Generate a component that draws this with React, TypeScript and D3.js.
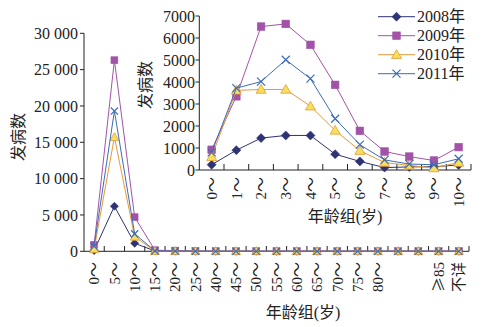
import React from "react";
import * as d3 from "d3";

const mainLabels = ["0～","5～","10～","15～","20～","25～","40～","45～","50～","55～","60～","65～","70～","75～","80～","","","≥85","不详"];
const main2008 = [100, 6200, 1100, 50, 20, 10, 10, 10, 10, 10, 10, 10, 10, 10, 10, 10, 10, 10, 10];
const main2009 = [900, 26300, 4700, 150, 100, 30, 20, 20, 20, 20, 20, 20, 20, 20, 20, 20, 20, 20, 20];
const main2010 = [300, 15700, 2000, 20, 10, 10, 10, 10, 10, 10, 10, 10, 10, 10, 10, 10, 10, 10, 10];
const main2011 = [700, 19300, 2400, 60, 30, 20, 10, 10, 10, 10, 10, 10, 10, 10, 10, 10, 10, 10, 10];
const mainTicks = [0, 5000, 10000, 15000, 20000, 25000, 30000];

const insetLabels = ["0～","1～","2～","3～","4～","5～","6～","7～","8～","9～","10～"];
const in2008 = [240, 900, 1450, 1570, 1570, 720, 390, 110, 140, 150, 230];
const in2009 = [920, 3350, 6520, 6640, 5690, 3870, 1780, 840, 610, 430, 1040];
const in2010 = [600, 3620, 3660, 3660, 2900, 1800, 880, 340, 210, 90, 340];
const in2011 = [800, 3720, 4020, 5010, 4150, 2330, 1150, 460, 270, 240, 510];
const insetTicks = [0, 1000, 2000, 3000, 4000, 5000, 6000, 7000];

const seriesNames = ["2008年", "2009年", "2010年", "2011年"];

const NAVY = "#2D3373";
const PURPLE = "#A253A8";
const ORANGE = "#E49A38";
const YELLOW = "#F6E05A";
const BLUE = "#3C6CB6";

const styles = [
  { line: NAVY, marker: "diamond", fill: NAVY, stroke: NAVY },
  { line: PURPLE, marker: "square", fill: PURPLE, stroke: PURPLE },
  { line: ORANGE, marker: "triangle", fill: YELLOW, stroke: ORANGE },
  { line: BLUE, marker: "x", fill: "none", stroke: BLUE },
];

const SERIF = "'Liberation Serif', 'Times New Roman', serif";
const CJK = "'Liberation Serif', 'Noto Sans CJK SC', serif";

function Marker({ type, x, y, fill, stroke, s = 1 }: any) {
  if (type === "diamond") {
    const r = 4.5 * s;
    return <path d={`M${x},${y - r}L${x + r},${y}L${x},${y + r}L${x - r},${y}Z`} fill={fill} stroke={stroke} strokeWidth={0.6} />;
  }
  if (type === "square") {
    const r = 3.8 * s;
    return <rect x={x - r} y={y - r} width={2 * r} height={2 * r} fill={fill} stroke={stroke} strokeWidth={0.6} />;
  }
  if (type === "triangle") {
    const r = 5 * s;
    return <path d={`M${x},${y - r}L${x + r},${y + r * 0.75}L${x - r},${y + r * 0.75}Z`} fill={fill} stroke={stroke} strokeWidth={0.8} />;
  }
  const r = 4 * s;
  return <path d={`M${x - r},${y - r}L${x + r},${y + r}M${x + r},${y - r}L${x - r},${y + r}`} stroke={stroke} strokeWidth={1.2} fill="none" />;
}

function Label({ text }: { text: string }) {
  if (text.startsWith("≥")) {
    return (
      <>
        <tspan fontFamily="'Noto Sans CJK SC', sans-serif">≥</tspan>
        {text.slice(1)}
      </>
    );
  }
  return <>{text}</>;
}

export default function App() {
  const xM = d3.scaleBand<number>().domain(d3.range(mainLabels.length)).range([84, 469]);
  const yM = d3.scaleLinear().domain([0, 30000]).range([251.3, 33.3]);
  const cxM = (i: number) => (xM(i) as number) + xM.bandwidth() / 2;
  const mainSeries = [main2008, main2009, main2010, main2011];

  const xI = d3.scaleBand<number>().domain(d3.range(insetLabels.length)).range([199.3, 471]);
  const yI = d3.scaleLinear().domain([0, 7000]).range([170, 16]);
  const cxI = (i: number) => (xI(i) as number) + xI.bandwidth() / 2;
  const insetSeries = [in2008, in2009, in2010, in2011];

  const lineM = d3.line<number>().x((_, i) => cxM(i)).y((d) => yM(d));
  const lineI = d3.line<number>().x((_, i) => cxI(i)).y((d) => yI(d));

  const fmtMain = (v: number) => (v >= 1000 ? d3.format(",")(v).replace(",", " ") : String(v));

  return (
    <svg width={491} height={327} style={{ position: "absolute", left: 0, top: 0, background: "#fff" }}>
      <rect width={491} height={327} fill="#fff" />
      <g fontFamily={SERIF} fontSize={16} fill="#222">
        <line x1={84} x2={84} y1={33.3} y2={251.3} stroke="#222" strokeWidth={1} />
        <line x1={84} x2={469} y1={251.3} y2={251.3} stroke="#222" strokeWidth={1} />
        {mainTicks.map((t) => (
          <g key={t}>
            <line x1={80} x2={84} y1={yM(t)} y2={yM(t)} stroke="#222" />
            <text x={78} y={yM(t)} dy="0.35em" textAnchor="end">{fmtMain(t)}</text>
          </g>
        ))}
        {d3.range(1, mainLabels.length + 1).map((i) => {
          const x = i < mainLabels.length ? (xM(i) as number) : 469;
          return <line key={i} x1={x} x2={x} y1={251.3} y2={246} stroke="#222" />;
        })}
        {mainLabels.map((l, i) => (
          <text key={i} transform={`translate(${cxM(i)},262) rotate(-90)`} dy="0.35em" textAnchor="end" fontFamily={CJK} fontSize={15}><Label text={l} /></text>
        ))}
        <text transform="translate(18,137) rotate(-90)" textAnchor="middle" dy="0.35em" fontFamily={CJK} fontSize={16}>发病数</text>
        <text x={303} y={318} textAnchor="middle" fontFamily={CJK} fontSize={16}>年龄组(岁)</text>
        {mainSeries.map((s, k) => (
          <g key={k}>
            <path d={lineM(s) as string} fill="none" stroke={styles[k].line} strokeWidth={1} />
            {s.map((v, i) => (
              <Marker key={i} type={styles[k].marker} x={cxM(i)} y={yM(v)} fill={styles[k].fill} stroke={styles[k].stroke} s={0.9} />
            ))}
          </g>
        ))}
      </g>
      <g fontFamily={SERIF} fontSize={16} fill="#222">
        <line x1={199.3} x2={199.3} y1={16} y2={170} stroke="#222" />
        <line x1={199.3} x2={471} y1={170} y2={170} stroke="#222" />
        {insetTicks.map((t) => (
          <g key={t}>
            <line x1={195.5} x2={199.3} y1={yI(t)} y2={yI(t)} stroke="#222" />
            <text x={195} y={yI(t)} dy="0.35em" textAnchor="end">{t}</text>
          </g>
        ))}
        {d3.range(1, insetLabels.length + 1).map((i) => {
          const x = i < insetLabels.length ? (xI(i) as number) : 471;
          return <line key={i} x1={x} x2={x} y1={170} y2={164} stroke="#222" />;
        })}
        {insetLabels.map((l, i) => (
          <text key={i} transform={`translate(${cxI(i)},177) rotate(-90)`} dy="0.35em" textAnchor="end" fontFamily={CJK} fontSize={15}>{l}</text>
        ))}
        <text transform="translate(145,85) rotate(-90)" textAnchor="middle" dy="0.35em" fontFamily={CJK} fontSize={16}>发病数</text>
        <text x={345} y={222} textAnchor="middle" fontFamily={CJK} fontSize={16}>年龄组(岁)</text>
        {insetSeries.map((s, k) => (
          <g key={k}>
            <path d={lineI(s) as string} fill="none" stroke={styles[k].line} strokeWidth={1} />
            {s.map((v, i) => (
              <Marker key={i} type={styles[k].marker} x={cxI(i)} y={yI(v)} fill={styles[k].fill} stroke={styles[k].stroke} />
            ))}
          </g>
        ))}
        {seriesNames.map((n, k) => {
          const y = 16.7 + k * 19;
          return (
            <g key={n}>
              <line x1={378} x2={415} y1={y} y2={y} stroke={styles[k].line} strokeWidth={1} />
              <Marker type={styles[k].marker} x={396.5} y={y} fill={styles[k].fill} stroke={styles[k].stroke} />
              <text x={417} y={y} dy="0.35em" fontFamily={CJK} fontSize={16}>{n}</text>
            </g>
          );
        })}
      </g>
    </svg>
  );
}
